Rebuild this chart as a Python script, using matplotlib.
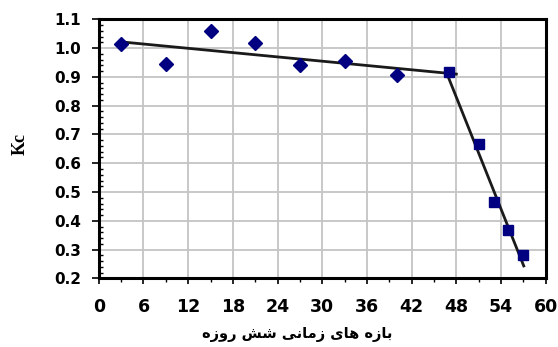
import matplotlib
matplotlib.use('Agg')
import matplotlib.pyplot as plt
from matplotlib.ticker import MultipleLocator

# first stage (diamonds) and late stage (squares)
x_early = [3, 9, 15, 21, 27, 33, 40]
kc_early = [1.013, 0.944, 1.060, 1.017, 0.941, 0.954, 0.908]
x_late = [47, 51, 53, 55, 57]
kc_late = [0.917, 0.666, 0.464, 0.369, 0.281]

# trend lines (end points)
trend1_x = [3, 48]
trend1_y = [1.022, 0.910]
trend2_x = [46.7, 57.05]
trend2_y = [0.914, 0.243]

xticks = [0, 6, 12, 18, 24, 30, 36, 42, 48, 54, 60]
yticks = [0.2, 0.3, 0.4, 0.5, 0.6, 0.7, 0.8, 0.9, 1.0, 1.1]

# "بازه های زمانی شش روزه" in shaped presentation forms, logical order
xlabel_logical = '\ufe91\ufe8e\ufeaf\ufee9 \ufeeb\ufe8e\ufeef \ufeaf\ufee3\ufe8e\ufee7\ufef0 \ufeb7\ufeb6 \ufead\ufeed\ufeaf\ufee9'
xlabel = xlabel_logical[::-1]

fig = plt.figure(figsize=(5.58, 3.47), dpi=100)
ax = fig.add_axes([0.177, 0.198, 0.801, 0.746])

ax.grid(True, color='#c4c4c4', linewidth=1.3, zorder=0)
ax.set_axisbelow(True)

ax.plot(trend1_x, trend1_y, color='#1a1a1a', linewidth=2, zorder=3)
ax.plot(trend2_x, trend2_y, color='#1a1a1a', linewidth=2, zorder=3)
ax.plot(x_early, kc_early, linestyle='none', marker='D', markersize=7.5,
        color='#000080', zorder=4)
ax.plot(x_late, kc_late, linestyle='none', marker='s', markersize=6.5,
        color='#000080', zorder=4)

ax.set_xlim(0, 60)
ax.set_ylim(0.2, 1.1)
ax.set_xticks(xticks)
ax.set_yticks(yticks)
ax.set_yticklabels([f'{v:.1f}' for v in yticks])
ax.xaxis.set_minor_locator(MultipleLocator(3))
ax.yaxis.set_minor_locator(MultipleLocator(0.02))

for lab in ax.get_xticklabels():
    lab.set_fontfamily('DejaVu Sans')
    lab.set_fontweight('bold')
    lab.set_fontsize(12.5)
for lab in ax.get_yticklabels():
    lab.set_fontfamily('DejaVu Sans')
    lab.set_fontweight('bold')
    lab.set_fontsize(11)

ax.tick_params(axis='x', which='major', direction='out', length=4, width=1.2, pad=10)
ax.tick_params(axis='x', which='minor', direction='out', length=3, width=1)
ax.tick_params(axis='y', which='major', direction='out', length=5, width=1.2, pad=7.5)
ax.tick_params(axis='y', which='minor', direction='in', length=3, width=1)

for side in ['left', 'bottom', 'top', 'right']:
    ax.spines[side].set_linewidth(2.2)
    ax.spines[side].set_color('black')

ax.set_ylabel('Kc', fontfamily='Liberation Serif', fontweight='bold', fontsize=13)
ax.yaxis.set_label_coords(-0.158, 0.52)
ax.set_xlabel(xlabel, fontfamily='DejaVu Sans', fontweight='bold', fontsize=10.5)
ax.xaxis.set_label_coords(0.444, -0.19)

plt.savefig('out.png', dpi=100)
